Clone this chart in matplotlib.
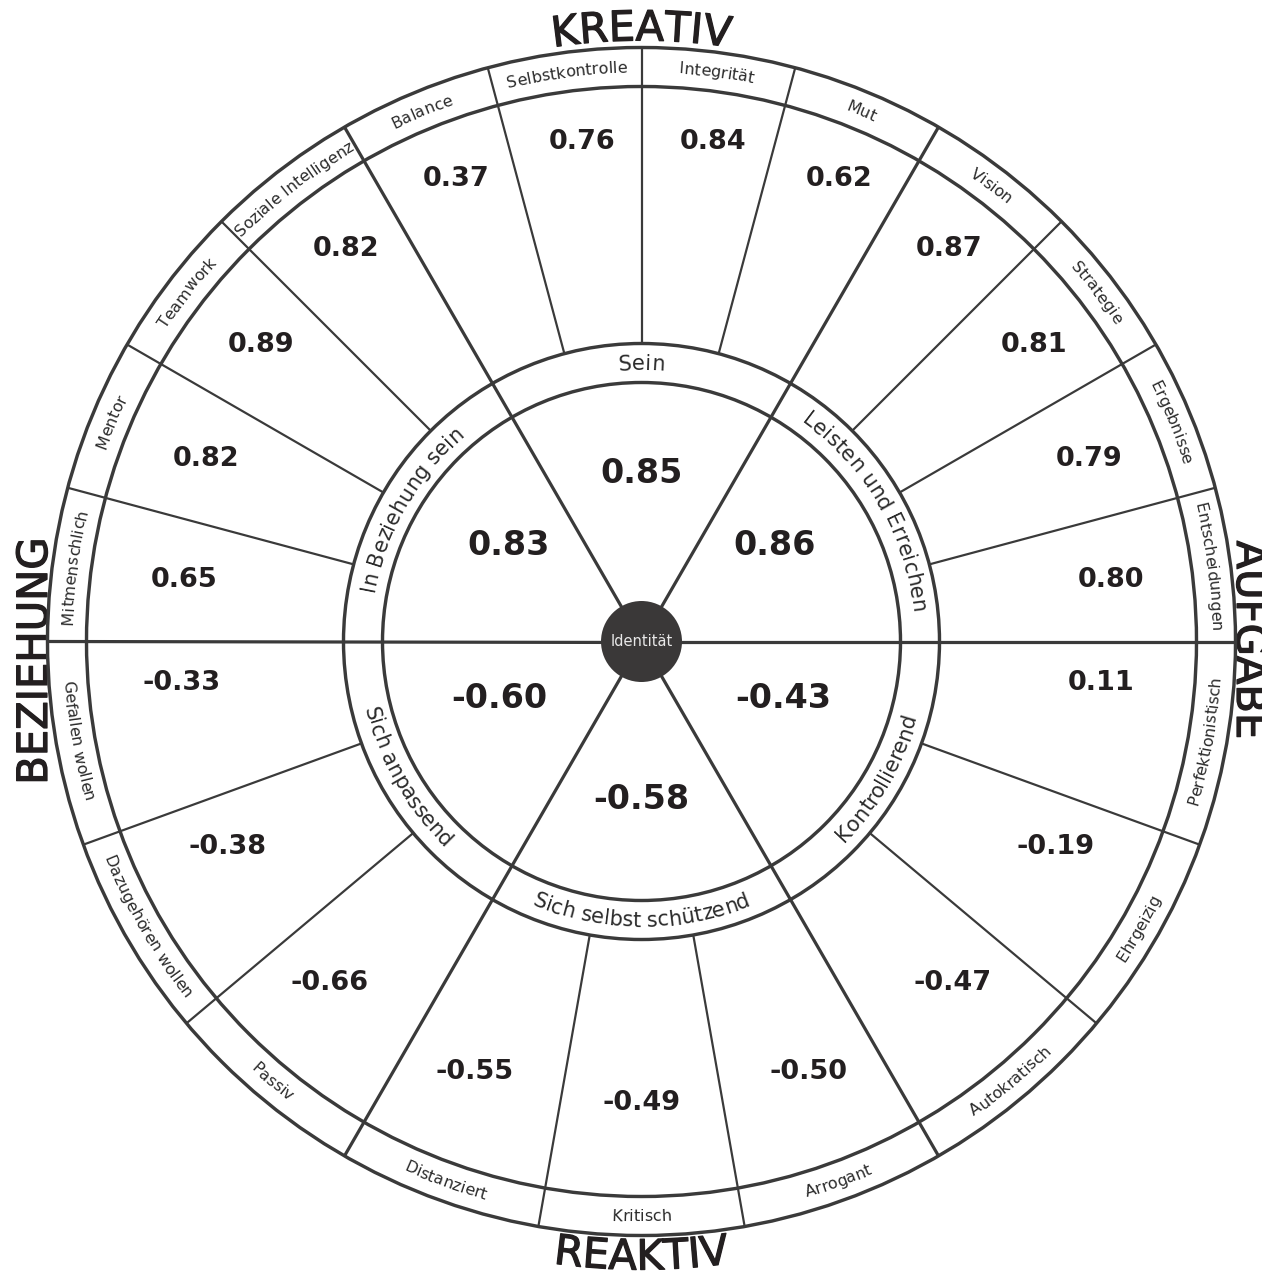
import numpy as np
import matplotlib
matplotlib.use('Agg')
import matplotlib.pyplot as plt
import matplotlib.patheffects as pe
from matplotlib.patches import Circle
from matplotlib.font_manager import FontProperties
from matplotlib.textpath import TextToPath

# ---------------- data ----------------
top_outer_labels = ['Entscheidungen', 'Ergebnisse', 'Strategie', 'Vision', 'Mut',
                    'Integrität', 'Selbstkontrolle', 'Balance', 'Soziale Intelligenz',
                    'Teamwork', 'Mentor', 'Mitmenschlich']
top_outer_values = [0.80, 0.79, 0.81, 0.87, 0.62, 0.84, 0.76, 0.37, 0.82, 0.89, 0.82, 0.65]

bottom_outer_labels = ['Gefallen wollen', 'Dazugehören wollen', 'Passiv', 'Distanziert',
                       'Kritisch', 'Arrogant', 'Autokratisch', 'Ehrgeizig', 'Perfektionistisch']
bottom_outer_values = [-0.33, -0.38, -0.66, -0.55, -0.49, -0.50, -0.47, -0.19, 0.11]

top_inner_labels = ['Leisten und Erreichen', 'Sein', 'In Beziehung sein']
top_inner_values = [0.86, 0.85, 0.83]
bottom_inner_labels = ['Sich anpassend', 'Sich selbst schützend', 'Kontrollierend']
bottom_inner_values = [-0.60, -0.58, -0.43]

center_label = 'Identität'
quadrant_top, quadrant_right, quadrant_bottom, quadrant_left = 'KREATIV', 'AUFGABE', 'REAKTIV', 'BEZIEHUNG'

# ---------------- layout ----------------
W, H, DPI = 1262, 1279, 100
CX, CY = 641.5, 641.5
R_OUT, R_LAB = 594, 555
R_MID_OUT, R_MID_IN = 298, 259
R_CORE = 40.5
PT = 72.0 / DPI
LINE = '#3a3a3a'
TEXT = '#231f20'
FAMILY = 'DejaVu Sans'
BOLDER = [pe.withStroke(linewidth=0.9, foreground=TEXT)]

fig = plt.figure(figsize=(W / DPI, H / DPI), dpi=DPI)
ax = fig.add_axes([0, 0, 1, 1])
ax.set_xlim(-CX, W - CX)
ax.set_ylim(-(H - CY), CY)
ax.axis('off')

t2p = TextToPath()


def adv(ch, fp):
    w1 = t2p.get_text_width_height_descent('|' + ch + '|', fp, ismath=False)[0]
    w0 = t2p.get_text_width_height_descent('||', fp, ismath=False)[0]
    return (w1 - w0) / PT


def curved(text, ang_c, rb, size, outward=True, weight='normal', color=TEXT, effects=None):
    fp = FontProperties(family=FAMILY, size=size, weight=weight)
    advs = np.array([adv(c, fp) for c in text])
    total = advs.sum()
    pos = np.cumsum(advs) - advs / 2 - total / 2
    for c, s in zip(text, pos):
        if c == ' ':
            continue
        if outward:
            a = ang_c - np.degrees(s / rb)
            rot = a - 90
        else:
            a = ang_c + np.degrees(s / rb)
            rot = a + 90
        x, y = rb * np.cos(np.radians(a)), rb * np.sin(np.radians(a))
        t = ax.text(x, y, c, fontproperties=fp, color=color, ha='center', va='baseline',
                    rotation=rot, rotation_mode='anchor', zorder=6)
        if effects:
            t.set_path_effects(effects)


def radial(a, r0, r1, lw):
    t = np.radians(a)
    ax.plot([r0 * np.cos(t), r1 * np.cos(t)], [r0 * np.sin(t), r1 * np.sin(t)],
            color=LINE, lw=lw, solid_capstyle='butt', zorder=3)


# circles
for r in [R_OUT, R_LAB, R_MID_OUT, R_MID_IN]:
    ax.add_patch(Circle((0, 0), r, fill=False, ec=LINE, lw=3.4 * PT, zorder=4))

# main spokes
radial(0, 0, R_OUT, 3.2 * PT)
radial(180, 0, R_OUT, 3.2 * PT)
for a in [60, 120, 240, 300]:
    radial(a, 0, R_OUT, 3.2 * PT)

# segment boundaries
n_top = len(top_outer_labels)
n_bot = len(bottom_outer_labels)
step_top = 180.0 / n_top
step_bot = 180.0 / n_bot
for k in range(1, n_top):
    a = k * step_top
    if abs(a - 60) > 1e-6 and abs(a - 120) > 1e-6:
        radial(a, R_MID_OUT, R_OUT, 2.2 * PT)
for k in range(1, n_bot):
    a = 180 + k * step_bot
    if abs(a - 240) > 1e-6 and abs(a - 300) > 1e-6:
        radial(a, R_MID_OUT, R_OUT, 2.2 * PT)

# outer ring labels
r_lab_mid = (R_OUT + R_LAB) / 2
lab_size = 11.5
off = 0.33 * lab_size / PT
for i, lab in enumerate(top_outer_labels):
    curved(lab, (i + 0.5) * step_top, r_lab_mid - off, lab_size, outward=True, color='#2b2b2b')
for i, lab in enumerate(bottom_outer_labels):
    curved(lab, 180 + (i + 0.5) * step_bot, r_lab_mid + off, lab_size, outward=False, color='#2b2b2b')

# middle ring labels
r_mid_mid = (R_MID_OUT + R_MID_IN) / 2
mid_size = 15
off2 = 0.33 * mid_size / PT
for i, lab in enumerate(top_inner_labels):
    curved(lab, 30 + 60 * i, r_mid_mid - off2, mid_size, outward=True, color='#2b2b2b')
for i, lab in enumerate(bottom_inner_labels):
    curved(lab, 210 + 60 * i, r_mid_mid + off2, mid_size, outward=False, color='#2b2b2b')

# outer values
for i, v in enumerate(top_outer_values):
    a = (i + 0.5) * step_top
    r = 462 + 42 * np.sin(np.radians(a))
    t = np.radians(a)
    ax.text(r * np.cos(t) + 6, r * np.sin(t), f'{v:.2f}', family=FAMILY, weight='bold',
            size=19.5, color=TEXT, ha='center', va='center')
for i, v in enumerate(bottom_outer_values):
    m = 180 + (i + 0.5) * step_bot
    a = m + (m - 270) * 0.06
    t = np.radians(a)
    r = 462
    ax.text(r * np.cos(t), r * np.sin(t), f'{v:.2f}', family=FAMILY, weight='bold',
            size=19.5, color=TEXT, ha='center', va='center')

# inner values
for i, v in enumerate(top_inner_values):
    m = 30 + 60 * i
    a = m - (m - 90) * 0.08
    t = np.radians(a)
    ax.text(162 * np.cos(t), 168 * np.sin(t), f'{v:.2f}', family=FAMILY, weight='bold',
            size=24, color=TEXT, ha='center', va='center')
for i, v in enumerate(bottom_inner_values):
    m = 210 + 60 * i
    a = m + (m - 270) * 0.15
    t = np.radians(a)
    ax.text(152 * np.cos(t), 158 * np.sin(t), f'{v:.2f}', family=FAMILY, weight='bold',
            size=24, color=TEXT, ha='center', va='center')

# core
ax.add_patch(Circle((0, 0), R_CORE, fc='#3a3838', ec='none', zorder=7))
ax.text(0, 0, center_label, family=FAMILY, size=10.5, color='#e8e8e8',
        ha='center', va='center', zorder=8)

# quadrant labels
curved(quadrant_top, 90, 601, 30, outward=True, effects=BOLDER)
curved(quadrant_bottom, 270, 628, 30, outward=False, effects=BOLDER)
ax.text(-594.5, CY - 661, quadrant_left, family=FAMILY, size=30, color=TEXT,
        rotation=90, ha='center', va='baseline', rotation_mode='anchor',
        path_effects=BOLDER)
ax.text(595.5, CY - 640, quadrant_right, family=FAMILY, size=30, color=TEXT,
        rotation=-90, ha='center', va='baseline', rotation_mode='anchor',
        path_effects=BOLDER)

fig.savefig('out.png', dpi=DPI)
